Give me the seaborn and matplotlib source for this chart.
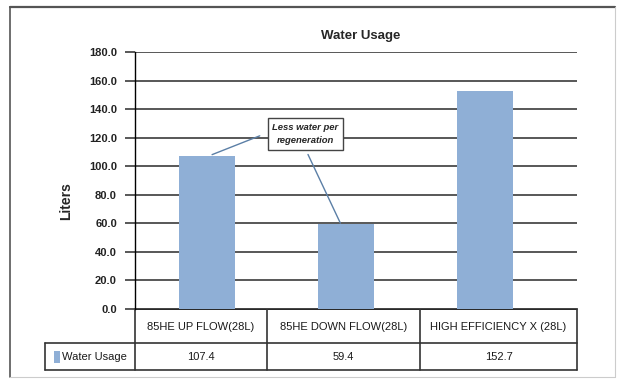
import matplotlib
matplotlib.use("Agg")
import matplotlib.pyplot as plt
import seaborn as sns
import pandas as pd

# chart data
categories = ["85HE UP FLOW(28L)", "85HE DOWN FLOW(28L)", "HIGH EFFICIENCY X (28L)"]
water_usage = [107.4, 59.4, 152.7]
series_name = "Water Usage"
y_ticks = [0, 20, 40, 60, 80, 100, 120, 140, 160, 180]
note_text = "Less water per\nregeneration"

BAR_COLOR = "#8fafd6"
GRID_COLOR = "#4a4a4a"
LINE_COLOR = "#333333"

sns.set_style("white")
plt.rcParams["font.family"] = ["Liberation Sans", "DejaVu Sans"]

W, H = 618, 379
fig = plt.figure(figsize=(W / 100, H / 100), dpi=100)
fig.patch.set_facecolor("white")

# overlay in pixel coords for frame + data table
ov = fig.add_axes([0, 0, 1, 1])
ov.set_xlim(0, W)
ov.set_ylim(H, 0)
ov.axis("off")

# plot area (pixels)
ax_left, ax_right, ax_top, ax_bottom = 135, 577, 52, 309
ax = fig.add_axes([ax_left / W, (H - ax_bottom) / H,
                   (ax_right - ax_left) / W, (ax_bottom - ax_top) / H])
ax.patch.set_alpha(0)

df = pd.DataFrame({"category": categories, "value": water_usage})
sns.barplot(data=df, x="category", y="value", color=BAR_COLOR, saturation=1,
            width=0.4, linewidth=0, edgecolor=BAR_COLOR, ax=ax, zorder=3)

# bar centres sit at ~207, 345, 485 px in the reference
ax.set_xlim(-0.516, 2.664)
ax.set_ylim(0, 180)
ax.set_yticks(y_ticks)
ax.set_yticklabels([f"{v:.1f}" for v in y_ticks], fontsize=8, fontweight="bold",
                   color="#222222")
ax.set_xticks([])
ax.set_xlabel("")
ax.set_ylabel("Liters", fontsize=10, fontweight="bold")
ax.yaxis.set_label_coords(-0.14, 0.42)
ax.grid(axis="y", color=GRID_COLOR, lw=1.3, zorder=0)
ax.set_axisbelow(True)
ax.tick_params(axis="y", direction="out", length=7, width=1.3, color=GRID_COLOR,
               left=True, pad=6)
for s in ["top", "right", "bottom"]:
    ax.spines[s].set_visible(False)
ax.spines["left"].set_color("black")
ax.spines["left"].set_linewidth(1.0)

ax.set_title("Water Usage", fontsize=9.5, fontweight="bold", pad=9, x=0.51)

# callout
ax.text(0.71, 122.5, note_text, fontsize=6.8, fontweight="bold", style="italic",
        ha="center", va="center", linespacing=1.6, zorder=6,
        bbox=dict(boxstyle="square,pad=0.5", fc="white", ec="#444444", lw=1.0))
ax.annotate("", xy=(0.02, water_usage[0]), xytext=(0.40, 122.0),
            arrowprops=dict(arrowstyle="-", color="#5b7fa6", lw=1.0), zorder=5)
ax.annotate("", xy=(0.97, water_usage[1] - 1.0), xytext=(0.72, 110.0),
            arrowprops=dict(arrowstyle="-", color="#5b7fa6", lw=1.0), zorder=5)

# outer frame
ov.plot([10, 615], [7, 7], color="#555555", lw=1.6)
ov.plot([10, 10], [7, 377], color="#555555", lw=1.2)
ov.plot([615, 615], [7, 377], color="#cccccc", lw=0.8)
ov.plot([10, 615], [377, 377], color="#cccccc", lw=0.8)

# data table
col_edges = [135, 267, 420, 577]
row_top, row_mid, row_bot = 309, 343, 370
legend_left = 45
ov.plot([col_edges[0], col_edges[-1]], [row_top, row_top], color="black", lw=1.2)
ov.plot([legend_left, col_edges[-1]], [row_mid, row_mid], color=LINE_COLOR, lw=1.2)
ov.plot([legend_left, col_edges[-1]], [row_bot, row_bot], color=LINE_COLOR, lw=1.2)
for x in col_edges:
    ov.plot([x, x], [row_top, row_bot], color=LINE_COLOR, lw=1.2)
ov.plot([legend_left, legend_left], [row_mid, row_bot], color=LINE_COLOR, lw=1.2)

for i, (cat, val) in enumerate(zip(categories, water_usage)):
    cx = (col_edges[i] + col_edges[i + 1]) / 2
    ov.text(cx, (row_top + row_mid) / 2 + 1, cat, fontsize=8, ha="center",
            va="center", color="#1a1a1a")
    ov.text(cx, (row_mid + row_bot) / 2 + 1, f"{val:.1f}", fontsize=8,
            ha="center", va="center", color="#1a1a1a")

ov.add_patch(plt.Rectangle((54, 351), 6, 12, color=BAR_COLOR, lw=0))
ov.text(62, (row_mid + row_bot) / 2 + 1, series_name, fontsize=8, ha="left",
        va="center", color="#1a1a1a")

fig.savefig("out.png", dpi=100)
